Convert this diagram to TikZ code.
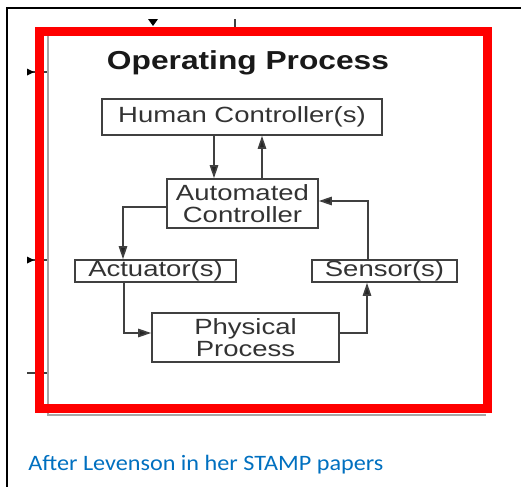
\documentclass[tikz,border=0pt]{standalone}
\usepackage{fontspec}
\usetikzlibrary{arrows.meta}
\newfontfamily\boxfont[FakeStretch=1.25]{Liberation Sans}
\newfontfamily\titlefont[FakeStretch=1.22]{Liberation Sans}
\newfontfamily\capfont[FakeStretch=1.1]{Carlito}
\definecolor{linkblue}{RGB}{0,112,192}
\colorlet{boxline}{black!75}
\tikzset{
  box/.style={draw=boxline, line width=0.8pt, inner sep=0pt, text=black!80,
    font={\boxfont\fontsize{11}{11}\selectfont}, align=center},
  flow/.style={draw=boxline, line width=0.8pt, -{Triangle[length=6.5pt,width=4.2pt,fill=black!85]}}
}

\begin{document}
\begin{tikzpicture}[x=0.5pt, y=-0.5pt]
        \useasboundingbox[fill=white] (0,0) rectangle (521,487);
        % outer frame of the page
        \draw[line width=0.9pt] (7,487) -- (7,8) -- (521,8);
        % bits of the surrounding figure
        \fill (148,19) -- (158,19) -- (153,26) -- cycle;
        \draw[boxline, line width=0.75pt] (235,19) -- (235,28);
        \foreach \y in {72,260}
        {
            \draw[boxline, line width=0.75pt] (27,\y) -- (47,\y);
            \fill (27,\y-3.5) -- (34,\y) -- (27,\y+3.5) -- cycle;
        }
        \draw[boxline, line width=0.75pt] (27,373) -- (47,373);
        % shadow of the original box
        \draw[gray!70, line width=0.9pt] (48,36) -- (48,415) -- (486,415);
        % red highlight
        \draw[red, line width=4.5pt] (39,31) rectangle (487,408);
        % title
        \node[anchor=base, text=black!90, font={\titlefont\bfseries\fontsize{13}{13}\selectfont}]
            (title) at (248,69) {Operating Process};
        % boxes
        \node[box, minimum width=140pt, minimum height=18pt] (human) at (242,117) {Human Controller(s)};
        \node[box, minimum width=75.5pt, minimum height=24.5pt] (auto) at (242.5,203.5) {Automated\\Controller};
        \node[box, minimum width=80.5pt, minimum height=11pt] (act) at (155.5,271) {Actuator(s)};
        \node[box, minimum width=72.5pt, minimum height=11pt] (sens) at (384.5,271) {Sensor(s)};
        \node[box, minimum width=93.5pt, minimum height=24.5pt] (phys) at (245.5,337.5) {Physical\\Process};
        % control loop
        \draw[flow] ([xshift=-14pt]human.south) -- ([xshift=-14pt]human.south |- auto.north);
        \draw[flow] ([xshift=10pt]human.south |- auto.north) -- ([xshift=10pt]human.south);
        \draw[flow] ([yshift=-1.75pt]auto.west) -| ([xshift=-16.25pt]act.north);
        \draw[flow] ([xshift=-15.75pt]act.south) |- ([yshift=2.25pt]phys.west);
        \draw[flow] ([yshift=2.25pt]phys.east) -| ([xshift=-8.75pt]sens.south);
        \draw[flow] ([xshift=-8.25pt]sens.north) |- ([yshift=1.25pt]auto.east);
        % caption
        \node[anchor=base west, inner sep=0pt, text=linkblue, font={\capfont\fontsize{11}{11}\selectfont}]
            (caption) at (28,470) {After Levenson in her STAMP papers};
    \end{tikzpicture}
\end{document}
